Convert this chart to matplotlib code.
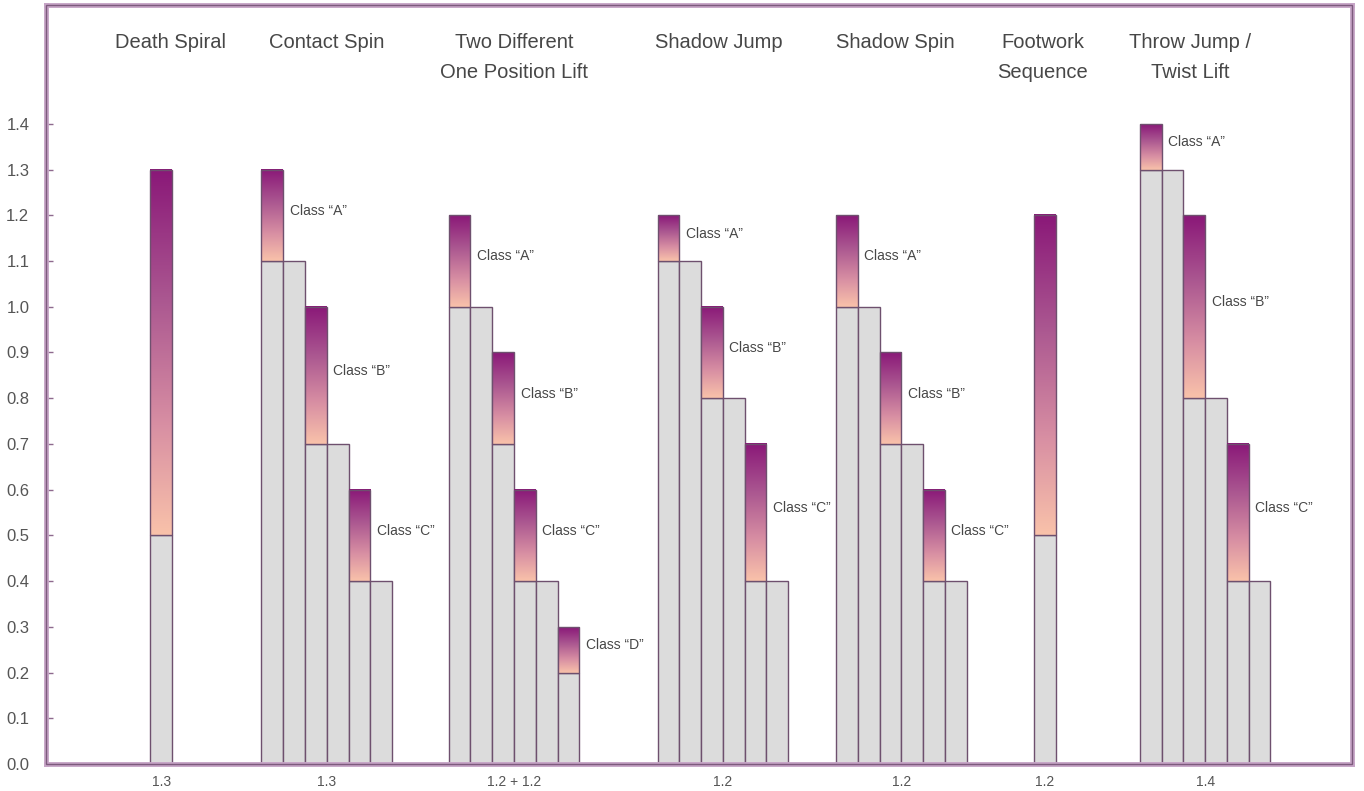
import numpy as np
import matplotlib
matplotlib.use("Agg")
import matplotlib.pyplot as plt
from matplotlib.colors import LinearSegmentedColormap
from matplotlib.patches import Rectangle

plt.rcParams['font.family'] = ['Liberation Sans', 'DejaVu Sans']

# element names (top) and base values (bottom)
elements = ["Death Spiral", "Contact Spin", "Two Different\nOne Position Lift",
            "Shadow Jump", "Shadow Spin", "Footwork\nSequence", "Throw Jump /\nTwist Lift"]
base_values = ["1.3", "1.3", "1.2 + 1.2", "1.2", "1.2", "1.2", "1.4"]

# grey part of each bar, top of gradient part (nan = grey only), class letter
death_grey = [0.5]
death_top = [1.3]
death_cls = [""]

contact_grey = [1.1, 1.1, 0.7, 0.7, 0.4, 0.4]
contact_top = [1.3, np.nan, 1.0, np.nan, 0.6, np.nan]
contact_cls = ["A", "", "B", "", "C", ""]

lift_grey = [1.0, 1.0, 0.7, 0.4, 0.4, 0.2]
lift_top = [1.2, np.nan, 0.9, 0.6, np.nan, 0.3]
lift_cls = ["A", "", "B", "C", "", "D"]

sjump_grey = [1.1, 1.1, 0.8, 0.8, 0.4, 0.4]
sjump_top = [1.2, np.nan, 1.0, np.nan, 0.7, np.nan]
sjump_cls = ["A", "", "B", "", "C", ""]

sspin_grey = [1.0, 1.0, 0.7, 0.7, 0.4, 0.4]
sspin_top = [1.2, np.nan, 0.9, np.nan, 0.6, np.nan]
sspin_cls = ["A", "", "B", "", "C", ""]

foot_grey = [0.5]
foot_top = [1.2]
foot_cls = [""]

throw_grey = [1.3, 1.3, 0.8, 0.8, 0.4, 0.4]
throw_top = [1.4, np.nan, 1.2, np.nan, 0.7, np.nan]
throw_cls = ["A", "", "B", "", "C", ""]

greys = [death_grey, contact_grey, lift_grey, sjump_grey, sspin_grey, foot_grey, throw_grey]
tops = [death_top, contact_top, lift_top, sjump_top, sspin_top, foot_top, throw_top]
classes = [death_cls, contact_cls, lift_cls, sjump_cls, sspin_cls, foot_cls, throw_cls]

# layout: where each group starts on the x axis (bar width = 1), title nudges
group_start = [4.8, 9.9, 18.5, 28.1, 36.3, 45.4, 50.25]
title_shift = [0.4, 0, 0, -0.2, -0.3, -0.1, -0.7]

cmap = LinearSegmentedColormap.from_list(
    "skate", [(0, "#f9c2aa"), (0.3, "#d88fa3"), (0.65, "#aa5690"), (1, "#8a1878")])
grad = np.linspace(0, 1, 256).reshape(-1, 1)

edge = "#6e506e"
text_col = "#474747"

fig = plt.figure(figsize=(13.64, 7.91), dpi=100)
ax = fig.add_axes([46 / 1364, 27 / 791, 1306 / 1364, 759 / 791])

for g in range(len(elements)):
    x0 = group_start[g]
    n = len(greys[g])
    for i in range(n):
        x = x0 + i
        low = greys[g][i]
        high = tops[g][i]
        ax.bar(x, low, width=1, align="edge", color="#dcdcdc", edgecolor=edge, lw=1, zorder=2)
        if not np.isnan(high):
            ax.imshow(grad, cmap=cmap, origin="lower", aspect="auto",
                      extent=[x, x + 1, low, high], zorder=2)
            ax.bar(x, high - low, bottom=low, width=1, align="edge", fill=False,
                   edgecolor=edge, lw=1, zorder=3)
            if classes[g][i]:
                ax.text(x + 1.3, (low + high) / 2 + 0.01,
                        "Class \u201c" + classes[g][i] + "\u201d",
                        fontsize=10, color=text_col, va="center", ha="left")
    centre = x0 + n / 2 + title_shift[g]
    ax.text(centre, 1.598, elements[g], ha="center", va="top", fontsize=14.5,
            color=text_col, linespacing=1.7)

centres = [group_start[g] + len(greys[g]) / 2 for g in range(len(elements))]
ax.set_xticks(centres)
ax.set_xticklabels(base_values, fontsize=10, color="#555555")
ax.tick_params(axis="x", length=0, pad=8)

ax.set_yticks(np.arange(0, 1.41, 0.1))
ax.set_yticklabels(["%.1f" % v for v in np.arange(0, 1.41, 0.1)], fontsize=12, color="#555555")
ax.tick_params(axis="y", direction="in", length=5, width=1, color="#8e6a8e", pad=12)

ax.set_xlim(0, 60)
ax.set_ylim(0, 1.66)

for s in ax.spines.values():
    s.set_color("#c6a4c6")
    s.set_linewidth(3.5)
ax.add_patch(Rectangle((0, 0), 1, 1, transform=ax.transAxes, fill=False,
                       edgecolor="#7d5a7d", lw=1, clip_on=False, zorder=5))

fig.savefig("out.png", dpi=100)
